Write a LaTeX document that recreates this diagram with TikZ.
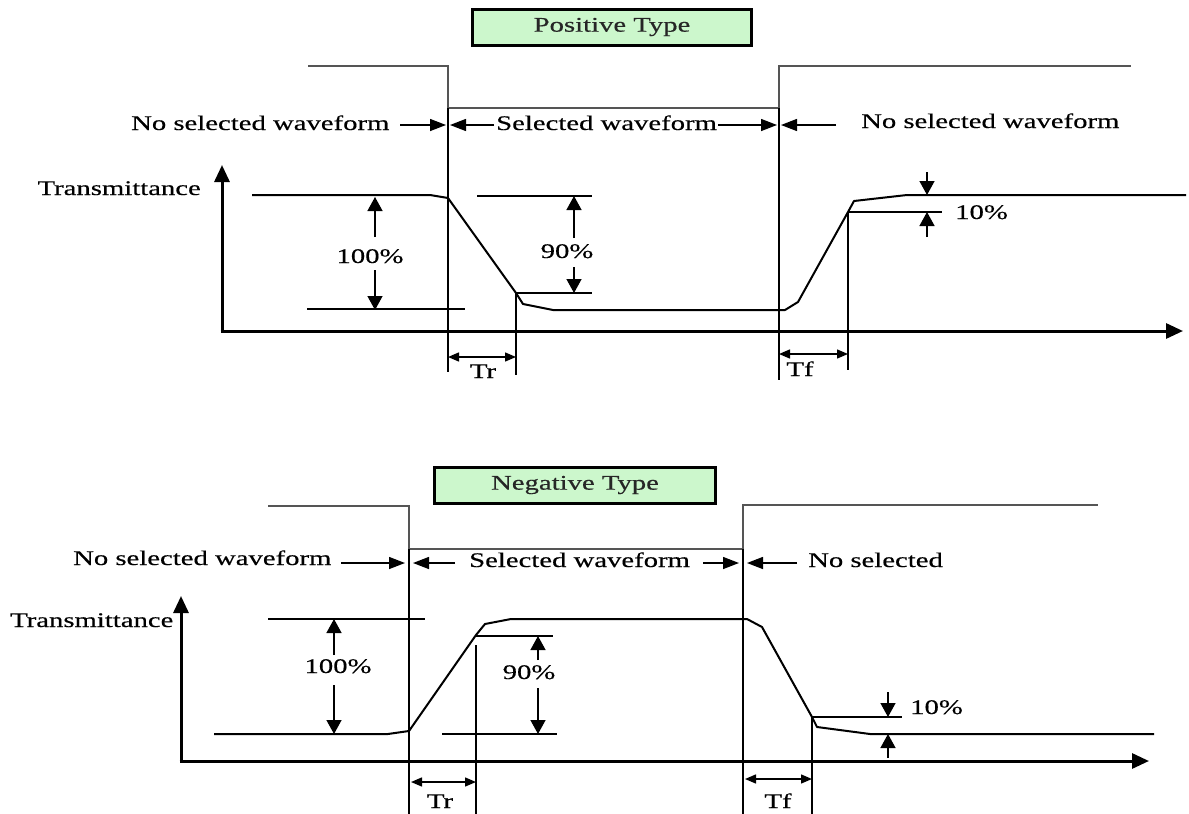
\documentclass[tikz,border=0pt]{standalone}
\usepackage{fontspec}
\setmainfont{Liberation Serif}
\newfontfamily\wf[FakeStretch=1.38,FakeBold=0.4]{Liberation Serif}
\usetikzlibrary{arrows.meta}
\definecolor{boxgreen}{HTML}{CCF7CC}
\definecolor{sqgray}{HTML}{555555}
\begin{document}
\begin{tikzpicture}[x=1pt,y=-1pt,
  lbl/.style={font=\wf\fontsize{20.8}{22}\selectfont, inner sep=0pt},
  axisline/.style={line width=3pt,-{Triangle[length=17pt,width=15pt]}},
  wave/.style={line width=2pt, line join=round},
  sqwave/.style={line width=1.7pt, draw=sqgray},
  refline/.style={line width=1.4pt},
  vline/.style={line width=1.6pt},
  pct/.style={line width=1.4pt,-{Triangle[length=14pt,width=15pt]}},
  rowarr/.style={line width=1.4pt,-{Triangle[length=16pt,width=12pt]}},
  dimarr/.style={line width=1.4pt,{Triangle[length=11pt,width=9pt]}-{Triangle[length=11pt,width=9pt]}},
  titlebox/.style={draw, line width=3pt, fill=boxgreen, minimum height=36pt, inner sep=0pt, font=\wf\fontsize{20.8}{22}\selectfont, text=black!85}
]
\useasboundingbox (0,0) rectangle (1189,814);

% ================= Positive type =================
\node[titlebox, minimum width=279pt] (ptitle) at (612,27) {Positive Type};

\draw[sqwave] (308,66) -- (448,66) -- (448,108) -- (779,108) -- (779,66) -- (1131,66);

\node[lbl,anchor=base west] (pno1) at (131,130) {No selected waveform};
\draw[rowarr] (400,125) -- (446,125);
\draw[rowarr] (494,125) -- (450,125);
\node[lbl,anchor=base west] (psel) at (496,130) {Selected waveform};
\draw[rowarr] (718,125) -- (777,125);
\draw[rowarr] (836,125) -- (781,125);
\node[lbl,anchor=base west] (pno2) at (861,128) {No selected waveform};

\node[lbl,anchor=base east] (ptrans) at (201,195) {Transmittance};
\draw[axisline] (222,332.5) -- (222,165);
\draw[axisline] (220.5,331) -- (1183,331);

\draw[wave] (252,195) -- (430,195) -- (448,198) -- (516,293) -- (523,304) -- (553,310) -- (785,310) -- (798,302) -- (848,212) -- (854,201) -- (907,195) -- (1186,195);

\draw[vline] (448,108) -- (448,372);
\draw[vline] (779,108) -- (779,380);
\draw[vline] (516,293) -- (516,375);
\draw[vline] (848,212) -- (848,370);

\draw[refline] (307,309) -- (465,309);
\draw[refline] (477,196) -- (592,196);
\draw[refline] (516,293) -- (592,293);
\draw[refline] (848,212) -- (942,212);

\node[lbl,anchor=base] (p100) at (370,263) {100\%};
\draw[pct] (375,237) -- (375,197);
\draw[pct] (375,270) -- (375,310);

\node[lbl,anchor=base] (p90) at (567,258) {90\%};
\draw[pct] (574,238) -- (574,196);
\draw[pct] (574,267) -- (574,293);

\node[lbl,anchor=base west] (p10) at (955,219) {10\%};
\draw[pct] (927,172) -- (927,195);
\draw[pct] (927,237) -- (927,212);

\draw[dimarr] (448,357) -- (516,357);
\node[lbl,anchor=base] (ptr) at (483,378) {Tr};
\draw[dimarr] (779,354) -- (848,354);
\node[lbl,anchor=base] (ptf) at (800,376) {Tf};

% ================= Negative type =================
\node[titlebox, minimum width=281pt] (ntitle) at (575,485) {Negative Type};

\draw[sqwave] (268,506) -- (409,506) -- (409,549) -- (743,549) -- (743,505) -- (1098,505);

\node[lbl,anchor=base west] (nno1) at (73,565) {No selected waveform};
\draw[rowarr] (341,563) -- (405,563);
\draw[rowarr] (455,563) -- (413,563);
\node[lbl,anchor=base west] (nsel) at (469,567) {Selected waveform};
\draw[rowarr] (703,563) -- (739,563);
\draw[rowarr] (797,563) -- (747,563);
\node[lbl,anchor=base west] (nno2) at (808,567) {No selected};

\node[lbl,anchor=base west] (ntrans) at (10,627) {Transmittance};
\draw[axisline] (181,762.5) -- (181,596);
\draw[axisline] (179.5,761) -- (1149,761);

\draw[wave] (214,734) -- (388,734) -- (409,731) -- (476,635) -- (485,624) -- (511,619) -- (747,619) -- (762,627) -- (812,717) -- (817,727) -- (870,734) -- (1154,734);

\draw[vline] (409,549) -- (409,814);
\draw[vline] (743,549) -- (743,814);
\draw[vline] (476,645) -- (476,814);
\draw[vline] (812,717) -- (812,814);

\draw[refline] (268,619) -- (425,619);
\draw[refline] (476,636) -- (553,636);
\draw[refline] (442,734) -- (557,734);
\draw[refline] (812,717) -- (902,717);

\node[lbl,anchor=base] (n100) at (338,673) {100\%};
\draw[pct] (334,655) -- (334,619);
\draw[pct] (334,685) -- (334,734);

\node[lbl,anchor=base] (n90) at (529,679) {90\%};
\draw[pct] (538,660) -- (538,636);
\draw[pct] (538,688) -- (538,734);

\node[lbl,anchor=base west] (n10) at (910,714) {10\%};
\draw[pct] (888,692) -- (888,717);
\draw[pct] (888,758) -- (888,734);

\draw[dimarr] (411,782) -- (476,782);
\node[lbl,anchor=base] (ntr) at (440,808) {Tr};
\draw[dimarr] (745,779) -- (812,779);
\node[lbl,anchor=base] (ntf) at (778,808) {Tf};
\end{tikzpicture}
\end{document}
